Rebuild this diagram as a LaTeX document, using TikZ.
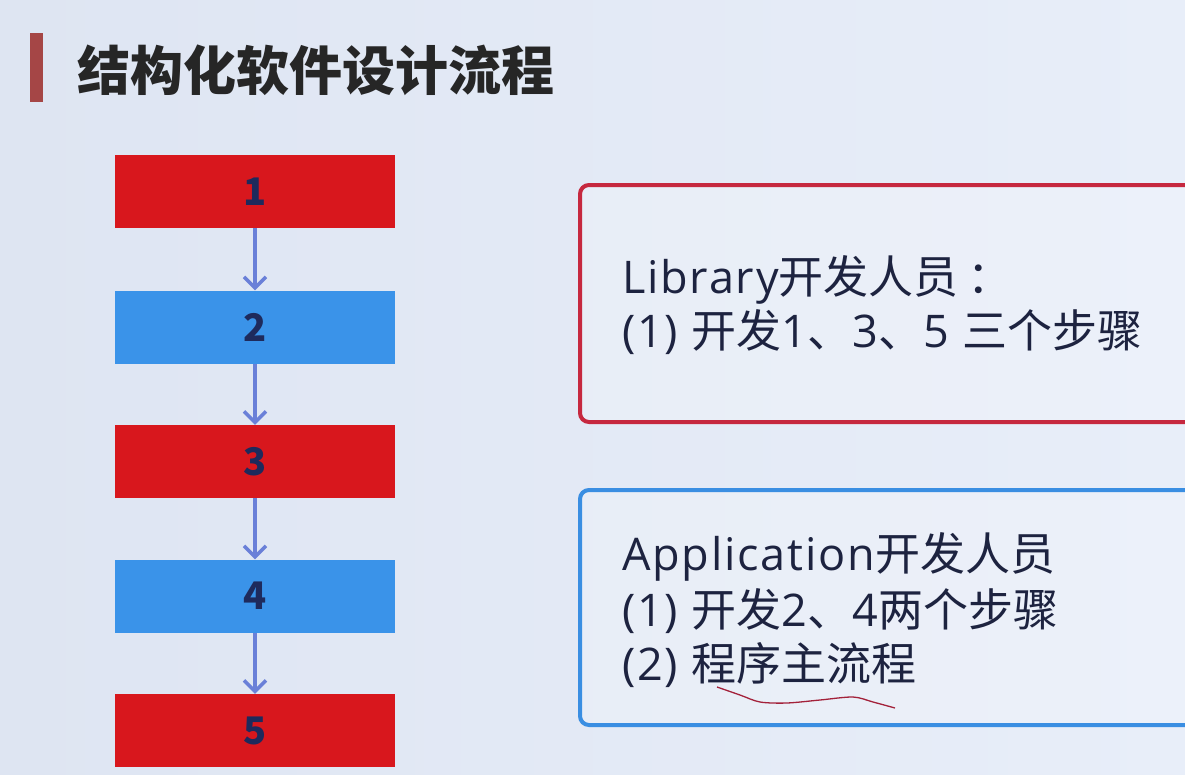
\documentclass[tikz,border=0pt]{standalone}
\usepackage{fontspec}
\setmainfont{Open Sans}[LetterSpace=4]
\newfontfamily\cjkfont{Noto Sans CJK SC}
\usetikzlibrary{arrows.meta}
\definecolor{bgleft}{HTML}{DEE5F2}
\definecolor{bgright}{HTML}{E8EEF9}
\definecolor{stepred}{HTML}{D8171D}
\definecolor{stepblue}{HTML}{3A93E9}
\definecolor{numc}{HTML}{1E2A5C}
\definecolor{arrc}{HTML}{6A80D8}
\definecolor{libred}{HTML}{C6283F}
\definecolor{appblue}{HTML}{3A8EE2}
\definecolor{barc}{HTML}{A54646}
\definecolor{txtc}{HTML}{1D2340}
\definecolor{wavec}{HTML}{A3213A}

\begin{document}
\begin{tikzpicture}[x=1pt,y=-1pt,
  stepbox/.style={minimum width=280pt,minimum height=73pt,inner sep=0pt,
    font=\cjkfont\fontsize{38}{38}\selectfont\bfseries,text=numc},
  flow/.style={-{Straight Barb[length=11pt,width=22pt,line width=3.5pt]},arrc,line width=3.5pt},
  infotext/.style={anchor=base west,inner sep=0pt,text=txtc,
    font=\fontsize{45}{55}\selectfont},
  frame/.style={line width=4pt,rounded corners=9pt,fill=white,fill opacity=.2}]
\useasboundingbox (0,0) rectangle (1185,774);
\clip (0,0) rectangle (1185,774);
\shade[left color=bgleft,right color=bgright] (0,0) rectangle (1185,774);

% title
\fill[barc] (30,33) rectangle (43,102);
\node[anchor=west,inner sep=0pt,text=black!85,font=\cjkfont\fontsize{53}{53}\selectfont\bfseries] (title) at (77,70) {结构化软件设计流程};

% steps
\node[stepbox,fill=stepred] (s1) at (255,191.5) {1};
\node[stepbox,fill=stepblue] (s2) at (255,327) {2};
\node[stepbox,fill=stepred] (s3) at (255,461.5) {3};
\node[stepbox,fill=stepblue] (s4) at (255,596) {4};
\node[stepbox,fill=stepred] (s5) at (255,730.5) {5};
\draw[flow] (s1) -- (s2);
\draw[flow] (s2) -- (s3);
\draw[flow] (s3) -- (s4);
\draw[flow] (s4) -- (s5);

% roles
\draw[frame,draw=libred] (580,185) rectangle (1210,422);
\node[infotext] (lib1) at (622,293) {Library{\cjkfont 开发人员\kern.2em：}};
\node[infotext] (lib2) at (622,347) {(1) {\cjkfont 开发}1{\cjkfont 、}3{\cjkfont 、}5 {\cjkfont 三个步骤}};
\draw[frame,draw=appblue] (580,490) rectangle (1210,725);
\node[infotext] (app1) at (622,570) {Application{\cjkfont 开发人员}};
\node[infotext] (app2) at (622,626) {(1) {\cjkfont 开发}2{\cjkfont 、}4{\cjkfont 两个步骤}};
\node[infotext] (app3) at (622,680) {(2) {\cjkfont 程序主流程}};
\draw[wavec,line width=1.3pt] plot[smooth] coordinates {(717,687) (740,695) (760,702) (787,703) (820,700) (853,697) (873,702) (895,708)};
\end{tikzpicture}
\end{document}
